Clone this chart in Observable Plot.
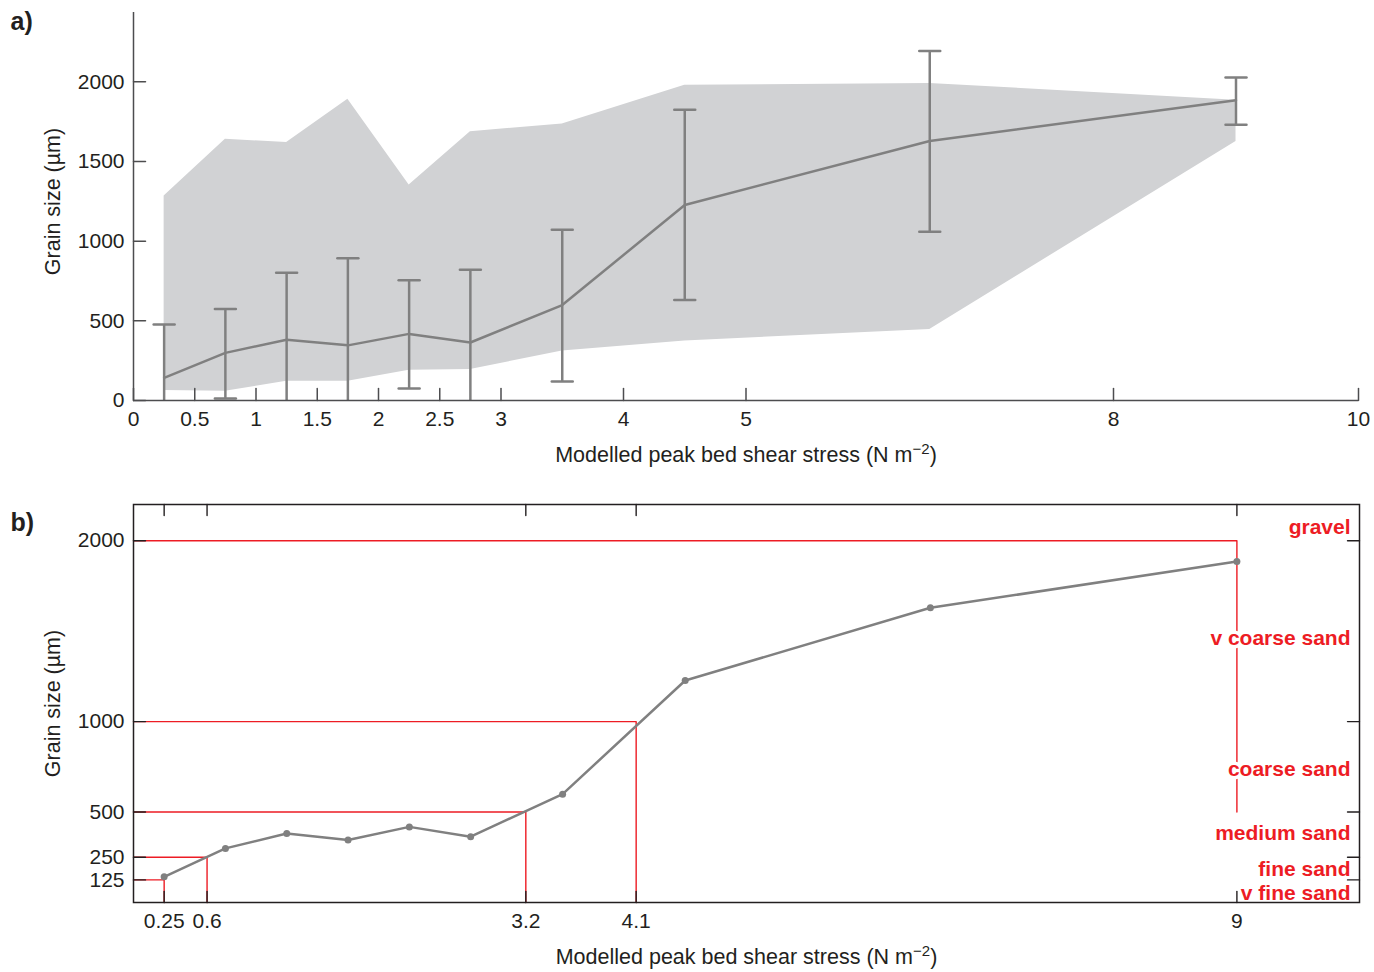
<!DOCTYPE html>
<html>
<head>
<meta charset="utf-8">
<script src="https://cdn.jsdelivr.net/npm/d3@7"></script>
<script src="https://cdn.jsdelivr.net/npm/@observablehq/plot@0.6"></script>
<style>
html, body { margin: 0; padding: 0; background: #fff; }
#wrap { position: relative; width: 1374px; height: 972px; overflow: hidden; }
#a, #b { position: absolute; left: 0; }
#a { top: 0; }
#b { top: 480px; }
</style>
</head>
<body>
<div id="wrap">
  <div id="a"></div>
  <div id="b"></div>
</div>
<script>
// ---- data ----
const stress   = [0.25, 0.75, 1.25, 1.75, 2.25, 2.75, 3.5, 4.5, 6.5, 9];
const meanSize = [142, 299, 381, 346, 418, 364, 599, 1227, 1629, 1885];
const errLow   = [0, 13, 0, 0, 75, 0, 119, 630, 1059, 1730];
const errHigh  = [477, 574, 802, 892, 754, 821, 1072, 1824, 2194, 2027];
const minSize  = [63, 58, 121, 121, 190, 195, 310, 373, 446, 1625];
const maxSize  = [1283, 1640, 1619, 1891, 1353, 1686, 1736, 1979, 1989, 1885];

const xTicksA = [0, 0.5, 1, 1.5, 2, 2.5, 3, 4, 5, 8, 10];
const yTicksA = [0, 500, 1000, 1500, 2000];

const thresholdStress = [0.25, 0.6, 3.2, 4.1, 9];
const thresholdSize   = [125, 250, 500, 1000, 2000];
const thresholdDropTo = [0, 0, 0, 0, 500];

const classNames  = ["gravel", "v coarse sand", "coarse sand", "medium sand", "fine sand", "v fine sand"];
const classLabelY = [2072, 1463, 738, 384, 185, 52];

const yTitle = "Grain size (\u00b5m)";
const xTitleMain = "Modelled peak bed shear stress (N m";
const xTitleSup = "\u22122";
const xTitleEnd = ")";
const xTitleFull = xTitleMain + xTitleSup + xTitleEnd;

// ---- styles ----
const font = "'Liberation Sans', Arial, Helvetica, sans-serif";
const ink = "#231f20";
const axisA = "#4d4d4f";
const gray = "#808080";
const red = "#ed1c24";
const tickShape = { draw(ctx, l) { ctx.moveTo(0, 0); ctx.lineTo(0, -l); } };

const rows = stress.map((x, i) => ({
  x, mean: meanSize[i], lo: errLow[i], hi: errHigh[i], min: minSize[i], max: maxSize[i]
}));

const redRows = [];
thresholdStress.forEach((s, i) => {
  redRows.push({k: i, x: 0, y: thresholdSize[i]});
  redRows.push({k: i, x: s, y: thresholdSize[i]});
  redRows.push({k: i, x: s, y: thresholdDropTo[i]});
});

const classRows = classNames.map((name, i) => ({name, y: classLabelY[i]}));

function fixTitle(svg) {
  d3.select(svg).selectAll("text").each(function () {
    if (this.textContent === xTitleFull) {
      const t = d3.select(this);
      t.text(null);
      t.append("tspan").text(xTitleMain);
      t.append("tspan").attr("dy", -8).attr("font-size", "15px").text(xTitleSup);
      t.append("tspan").attr("dy", 8).text(xTitleEnd);
    }
  });
}

const tickFs = 21;
const titleFs = 21.5;

// ---- panel a ----
const plotA = Plot.plot({
  width: 1374, height: 480,
  marginLeft: 133, marginRight: 16, marginTop: 12, marginBottom: 80,
  style: {fontFamily: font, fontSize: "21px", color: ink, background: "transparent", overflow: "visible"},
  x: {domain: [0, 10]},
  y: {domain: [0, 2435]},
  marks: [
    Plot.areaY(rows, {x: "x", y1: "min", y2: "max", fill: "#d1d2d4"}),
    Plot.line(rows, {x: "x", y: "mean", stroke: gray, strokeWidth: 2.5}),
    Plot.ruleX(rows, {x: "x", y1: "lo", y2: "hi", stroke: gray, strokeWidth: 2.5}),
    Plot.vector(rows, {x: "x", y: "hi", rotate: 90, length: 21, anchor: "middle", shape: tickShape, stroke: gray, strokeWidth: 2.5}),
    Plot.vector(rows.filter(d => d.lo > 0), {x: "x", y: "lo", rotate: 90, length: 21, anchor: "middle", shape: tickShape, stroke: gray, strokeWidth: 2.5}),
    Plot.ruleY([0], {stroke: axisA, strokeWidth: 1.5}),
    Plot.ruleX([0], {stroke: axisA, strokeWidth: 1.5}),
    Plot.vector(xTicksA, {x: d => d, frameAnchor: "bottom", length: 12, anchor: "start", shape: tickShape, stroke: axisA, strokeWidth: 1.5}),
    Plot.vector(yTicksA, {y: d => d, frameAnchor: "left", rotate: 90, length: 12, anchor: "start", shape: tickShape, stroke: axisA, strokeWidth: 1.5}),
    Plot.axisX(xTicksA, {tickSize: 0, tickPadding: 11, tickFormat: d => String(d), fontSize: tickFs, label: null, color: ink}),
    Plot.axisY(yTicksA, {tickSize: 0, tickPadding: 9, tickFormat: d => String(d), fontSize: tickFs, label: null, color: ink}),
    Plot.text([yTitle], {text: d => d, frameAnchor: "left", dx: -80, dy: -5, rotate: -90, textAnchor: "middle", lineAnchor: "middle", fontSize: titleFs, fill: ink}),
    Plot.text([xTitleFull], {text: d => d, frameAnchor: "bottom", dy: 55, textAnchor: "middle", lineAnchor: "middle", fontSize: titleFs, fill: ink}),
    Plot.text(["a)"], {text: d => d, frameAnchor: "top-left", dx: -123, dy: 9, textAnchor: "start", lineAnchor: "middle", fontSize: 25, fontWeight: "bold", fill: ink})
  ]
});
fixTitle(plotA);
document.getElementById("a").appendChild(plotA);

// ---- panel b ----
const plotB = Plot.plot({
  width: 1374, height: 492,
  marginLeft: 133, marginRight: 15, marginTop: 24, marginBottom: 70,
  style: {fontFamily: font, fontSize: "21px", color: ink, background: "transparent", overflow: "visible"},
  x: {domain: [0, 10]},
  y: {domain: [0, 2200]},
  marks: [
    Plot.frame({fill: "white"}),
    Plot.line(redRows, {x: "x", y: "y", z: "k", stroke: red, strokeWidth: 1.4}),
    Plot.line(rows, {x: "x", y: "mean", stroke: gray, strokeWidth: 2.5}),
    Plot.dot(rows, {x: "x", y: "mean", r: 3.5, fill: gray}),
    Plot.text(classRows, {y: "y", text: "name", frameAnchor: "right", dx: -9, textAnchor: "end", lineAnchor: "middle", fontSize: 21, fontWeight: "bold", fill: red, stroke: "white", strokeWidth: 7, paintOrder: "stroke"}),
    Plot.frame({stroke: ink, strokeWidth: 1.5}),
    Plot.vector(thresholdStress, {x: d => d, frameAnchor: "bottom", length: 11, anchor: "start", shape: tickShape, stroke: ink, strokeWidth: 1.4}),
    Plot.vector(thresholdStress, {x: d => d, frameAnchor: "top", rotate: 180, length: 11, anchor: "start", shape: tickShape, stroke: ink, strokeWidth: 1.4}),
    Plot.vector(thresholdSize, {y: d => d, frameAnchor: "left", rotate: 90, length: 12, anchor: "start", shape: tickShape, stroke: ink, strokeWidth: 1.4}),
    Plot.vector(thresholdSize, {y: d => d, frameAnchor: "right", rotate: -90, length: 12, anchor: "start", shape: tickShape, stroke: ink, strokeWidth: 1.4}),
    Plot.axisX(thresholdStress, {tickSize: 0, tickPadding: 11, tickFormat: d => String(d), fontSize: tickFs, label: null, color: ink}),
    Plot.axisY(thresholdSize, {tickSize: 0, tickPadding: 9, tickFormat: d => String(d), fontSize: tickFs, label: null, color: ink}),
    Plot.text([yTitle], {text: d => d, frameAnchor: "left", dx: -80, textAnchor: "middle", lineAnchor: "middle", rotate: -90, fontSize: titleFs, fill: ink}),
    Plot.text([xTitleFull], {text: d => d, frameAnchor: "bottom", dy: 55, textAnchor: "middle", lineAnchor: "middle", fontSize: titleFs, fill: ink}),
    Plot.text(["b)"], {text: d => d, frameAnchor: "top-left", dx: -123, dy: 18, textAnchor: "start", lineAnchor: "middle", fontSize: 25, fontWeight: "bold", fill: ink})
  ]
});
fixTitle(plotB);
document.getElementById("b").appendChild(plotB);
</script>
</body>
</html>
